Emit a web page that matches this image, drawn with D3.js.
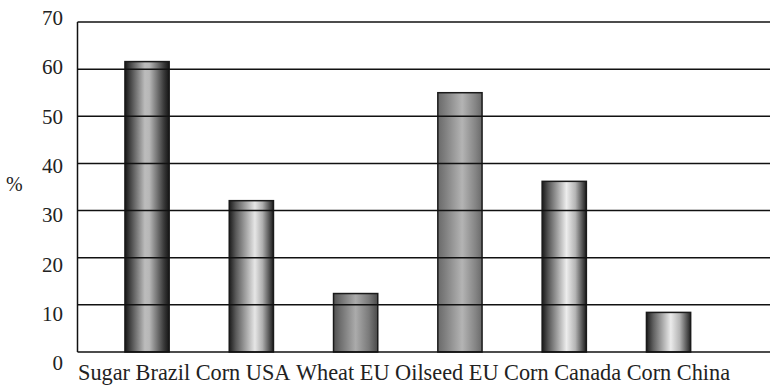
<!DOCTYPE html>
<html><head><meta charset="utf-8">
<script src="https://cdn.jsdelivr.net/npm/d3@7"></script>
</head>
<body style="margin:0">
<script>
const categories = ["Sugar Brazil","Corn USA","Wheat EU","Oilseed EU","Corn Canada","Corn China"];
const values = [61.6, 32.1, 12.4, 55.0, 36.2, 8.4];
const yTicks = [0,10,20,30,40,50,60,70];
const yLabel = "%";
// gradient stops per bar [offset, grey]
const gradients = [
  [[0,"#151515"],[0.12,"#444"],[0.45,"#bcbcbc"],[0.55,"#b8b8b8"],[0.88,"#3a3a3a"],[1,"#151515"]],
  [[0,"#1c1c1c"],[0.15,"#5a5a5a"],[0.58,"#e6e6e6"],[0.75,"#b0b0b0"],[1,"#1c1c1c"]],
  [[0,"#505050"],[0.15,"#6e6e6e"],[0.5,"#ababab"],[0.8,"#7a7a7a"],[1,"#4a4a4a"]],
  [[0,"#6a6a6a"],[0.15,"#7d7d7d"],[0.55,"#b4b4b4"],[0.85,"#858585"],[1,"#6a6a6a"]],
  [[0,"#1a1a1a"],[0.15,"#5a5a5a"],[0.55,"#ededed"],[0.75,"#b5b5b5"],[1,"#1a1a1a"]],
  [[0,"#1c1c1c"],[0.15,"#5e5e5e"],[0.55,"#ebebeb"],[0.75,"#b5b5b5"],[1,"#222"]]
];
const FONT = '"Liberation Serif"';

const W = 770, H = 385;
const svg = d3.select("body").append("svg").attr("width", W).attr("height", H).style("display","block");

const y = d3.scaleLinear().domain([0,70]).range([352,22]);
const yText = d3.scaleLinear().domain([0,70]).range([363,17.5]);
const x = d3.scaleBand().domain(categories).range([94.9,720.7]).paddingInner(0.576).paddingOuter(0.288);
const plotL = 77.5, plotR = 770;

const defs = svg.append("defs");
gradients.forEach((g,i)=>{
  const lg = defs.append("linearGradient").attr("id","g"+i).attr("x1","0").attr("x2","1").attr("y1","0").attr("y2","0");
  g.forEach(s=>lg.append("stop").attr("offset",s[0]).attr("stop-color",s[1]));
});

// bars
svg.append("g").selectAll("rect").data(categories).join("rect")
  .attr("x", d=>x(d))
  .attr("y", (d,i)=>y(values[i]))
  .attr("width", x.bandwidth())
  .attr("height", (d,i)=>y(0)-y(values[i]))
  .attr("fill", (d,i)=>`url(#g${i})`)
  .attr("stroke", "#1a1a1a").attr("stroke-width", 1.5);

// gridlines over bars
svg.append("g").selectAll("line").data(yTicks).join("line")
  .attr("x1", plotL).attr("x2", plotR)
  .attr("y1", d=>y(d)).attr("y2", d=>y(d))
  .attr("stroke", "#111").attr("stroke-width", 1.5);
// left axis line
svg.append("line").attr("x1",plotL).attr("x2",plotL).attr("y1",y(70)).attr("y2",y(0))
  .attr("stroke","#111").attr("stroke-width",1.5);

// y tick labels
svg.append("g").selectAll("text").data(yTicks).join("text")
  .attr("x", 63).attr("y", d=>yText(d)).attr("dy","0.35em")
  .attr("text-anchor","end").attr("fill","#222")
  .style("font-family", FONT).style("font-size","21px").text(d=>d);

svg.append("text").attr("x", 6).attr("y", 184).attr("dy","0.35em").attr("fill","#222")
  .style("font-family", FONT).style("font-size","20px").text(yLabel);

// x labels as flowing text
const xt = svg.append("text").attr("x", 78).attr("y", 380).attr("fill","#222")
  .style("font-family", FONT).style("font-size","22.3px");
categories.forEach((c,i)=>{
  xt.append("tspan").text(c + (i<categories.length-1 ? "\u00a0" : ""));
});
</script>
</body></html>
